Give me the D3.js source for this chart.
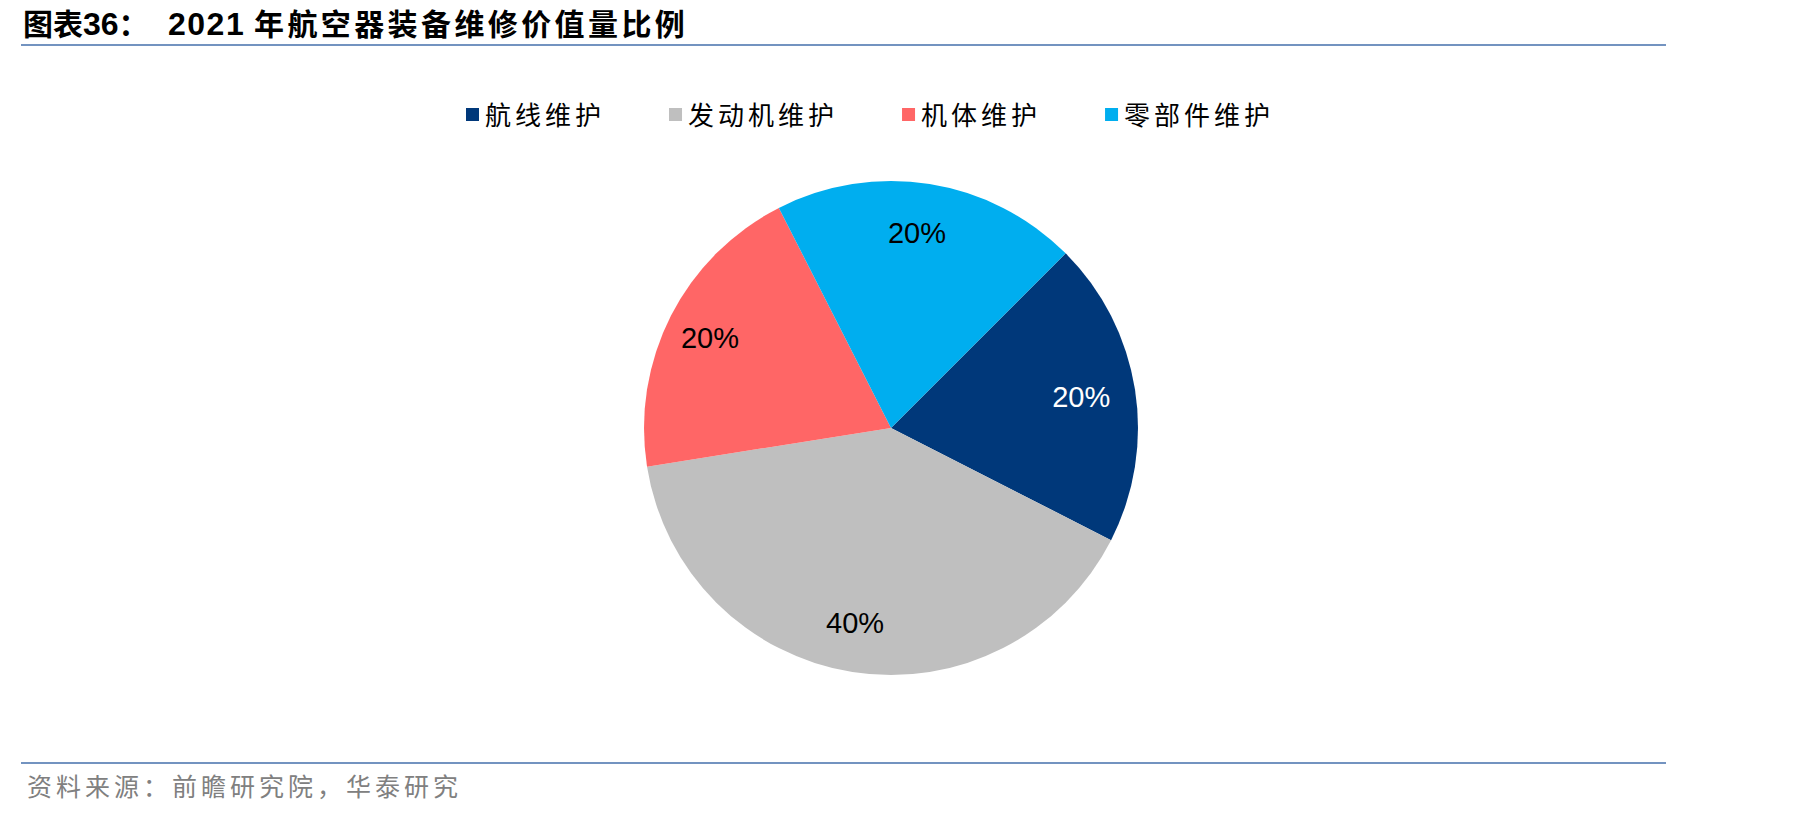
<!DOCTYPE html>
<html>
<head>
<meta charset="utf-8">
<script src="https://cdn.jsdelivr.net/npm/d3@7"></script>
<style>
  html, body { margin: 0; padding: 0; background: #fff; }
  svg { display: block; }
</style>
</head>
<body>
<div id="chart"></div>
<script>
// data
const categories = ["航线维护", "发动机维护", "机体维护", "零部件维护"];
const shares = [20, 40, 20, 20];
const sliceColors = ["#00387A", "#BFBFBF", "#FF6666", "#00AEEF"];
const labelColors = ["#ffffff", "#000000", "#000000", "#000000"];

const W = 1819, H = 817;
const cjk = "'Noto Sans CJK SC', sans-serif";
const latin = "'Liberation Sans', Arial, sans-serif";

const svg = d3.select("#chart").append("svg")
  .attr("width", W)
  .attr("height", H);

// title
const title = svg.append("text")
  .attr("x", 23)
  .attr("y", 35)
  .attr("font-weight", "bold")
  .attr("fill", "#000");
title.append("tspan").attr("font-family", cjk).attr("font-size", 30).text("图表");
title.append("tspan").attr("font-family", latin).attr("font-size", 32).text("36");
title.append("tspan").attr("font-family", cjk).attr("font-size", 30).text("：");
title.append("tspan").attr("x", 168).attr("font-family", latin).attr("font-size", 32)
  .attr("letter-spacing", 1.5).text("2021");
title.append("tspan").attr("x", 254).attr("font-family", cjk).attr("font-size", 30)
  .attr("letter-spacing", 3.4).text("年航空器装备维修价值量比例");

// rules
svg.append("line")
  .attr("x1", 21).attr("x2", 1666).attr("y1", 45).attr("y2", 45)
  .attr("stroke", "#7393C0").attr("stroke-width", 2);
svg.append("line")
  .attr("x1", 21).attr("x2", 1666).attr("y1", 763).attr("y2", 763)
  .attr("stroke", "#7393C0").attr("stroke-width", 2);

// source
svg.append("text")
  .attr("x", 27)
  .attr("y", 796)
  .attr("font-family", cjk)
  .attr("font-size", 25)
  .attr("letter-spacing", 4)
  .attr("fill", "#808080")
  .text("资料来源：前瞻研究院，华泰研究");

// legend
const legend = svg.append("g").attr("transform", "translate(466, 0)");
let lx = 0;
categories.forEach((c, i) => {
  const item = legend.append("g").attr("transform", `translate(${lx}, 0)`);
  item.append("rect")
    .attr("x", 0).attr("y", 108)
    .attr("width", 13).attr("height", 13)
    .attr("fill", sliceColors[i]);
  const t = item.append("text")
    .attr("x", 19)
    .attr("y", 125)
    .attr("font-family", cjk)
    .attr("font-size", 26)
    .attr("letter-spacing", 4)
    .attr("fill", "#000")
    .text(c);
  lx += 19 + t.node().getComputedTextLength() + 64;
});

// pie
const cx = 891, cy = 428, radius = 247;
const g = svg.append("g").attr("transform", `translate(${cx}, ${cy})`);

const pie = d3.pie()
  .sort(null)
  .value(d => d)
  .startAngle(Math.PI / 4)
  .endAngle(Math.PI / 4 + 2 * Math.PI);

const arc = d3.arc().innerRadius(0).outerRadius(radius);
const labelArc = d3.arc().innerRadius(radius * 0.8).outerRadius(radius * 0.8);

const arcs = pie(shares);

g.selectAll("path.slice")
  .data(arcs)
  .join("path")
  .attr("class", "slice")
  .attr("d", arc)
  .attr("fill", (d, i) => sliceColors[i]);

g.selectAll("text.pct")
  .data(arcs)
  .join("text")
  .attr("class", "pct")
  .attr("transform", d => {
    const [x, y] = labelArc.centroid(d);
    return `translate(${x - 5}, ${y})`;
  })
  .attr("text-anchor", "middle")
  .attr("dominant-baseline", "central")
  .attr("font-family", latin)
  .attr("font-size", 29)
  .attr("fill", (d, i) => labelColors[i])
  .text(d => d.data + "%");
</script>
</body>
</html>
